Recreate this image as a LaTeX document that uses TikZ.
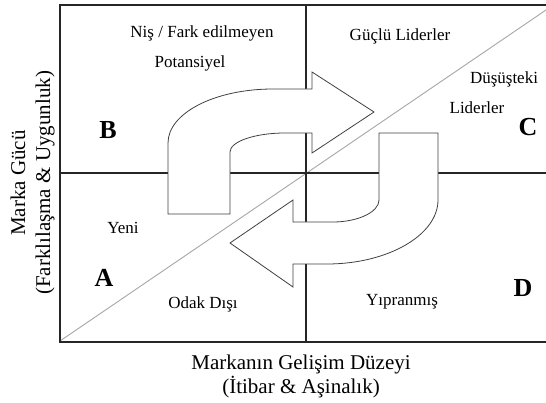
\documentclass[tikz,border=0pt]{standalone}
\usepackage{fontspec}
\setmainfont{Liberation Serif}
\begin{document}
\begin{tikzpicture}[x=1pt,y=-1pt,
  frame/.style={draw=black!85,line width=1.1pt},
  diag/.style={draw=black!35,line width=0.9pt},
  uturn/.style={draw=black!75,fill=white,line width=0.8pt,line join=miter},
  lbl/.style={font=\fontsize{17}{20}\selectfont,inner sep=0pt},
  axis/.style={font=\fontsize{21}{24}\selectfont,inner sep=0pt},
  quad/.style={font=\fontsize{26}{28}\selectfont\bfseries,inner sep=0pt}]
\useasboundingbox (0,0) rectangle (546,403);

% quadrant frame, dividers and diagonal
\draw[diag] (60,341) -- (546,10);
\draw[frame] (546,5) -- (60,5) -- (60,342) -- (546,342);
\draw[frame] (306,5) -- (306,342);
\draw[frame] (60,173) -- (546,173);

% upper U-turn arrow, pointing right
\draw[uturn] (168,214) -- (168,143)
  .. controls (168,113) and (215,89) .. (273,89)
  -- (312,89) -- (312,72) -- (374,112) -- (312,153) -- (312,133) -- (285,133)
  .. controls (255,133) and (230,141.5) .. (230,152)
  -- (230,214) -- cycle;

% lower U-turn arrow, pointing left
\draw[uturn] (438,133) -- (438,200)
  .. controls (438,235) and (388,264) .. (327,264)
  -- (293,264) -- (293,287) -- (230,243) -- (293,200) -- (293,222) -- (333,222)
  .. controls (358,222) and (379,212) .. (379,200)
  -- (379,133) -- cycle;

% quadrant texts
\node[lbl] (nis) at (202,33) {Niş / Fark edilmeyen};
\node[lbl] (pot) at (190,63) {Potansiyel};
\node[lbl] (guclu) at (400,36) {Güçlü Liderler};
\node[lbl] (dus) at (504,79) {Düşüşteki};
\node[lbl] (lid) at (477,108) {Liderler};
\node[lbl] (yeni) at (123,228) {Yeni};
\node[lbl] (odak) at (203,304) {Odak Dışı};
\node[lbl] (yip) at (402,302) {Yıpranmış};

% quadrant letters
\node[quad] (qb) at (108,130) {B};
\node[quad] (qc) at (528,127) {C};
\node[quad] (qa) at (104,278) {A};
\node[quad] (qd) at (523,288) {D};

% axis titles
\node[axis,rotate=90] (yl1) at (18,183) {Marka Gücü};
\node[axis,rotate=90] (yl2) at (45,183) {(Farklılaşma \& Uygunluk)};
\node[axis] (xl1) at (301,364) {Markanın Gelişim Düzeyi};
\node[axis] (xl2) at (301,387) {(İtibar \& Aşinalık)};
\end{tikzpicture}
\end{document}
